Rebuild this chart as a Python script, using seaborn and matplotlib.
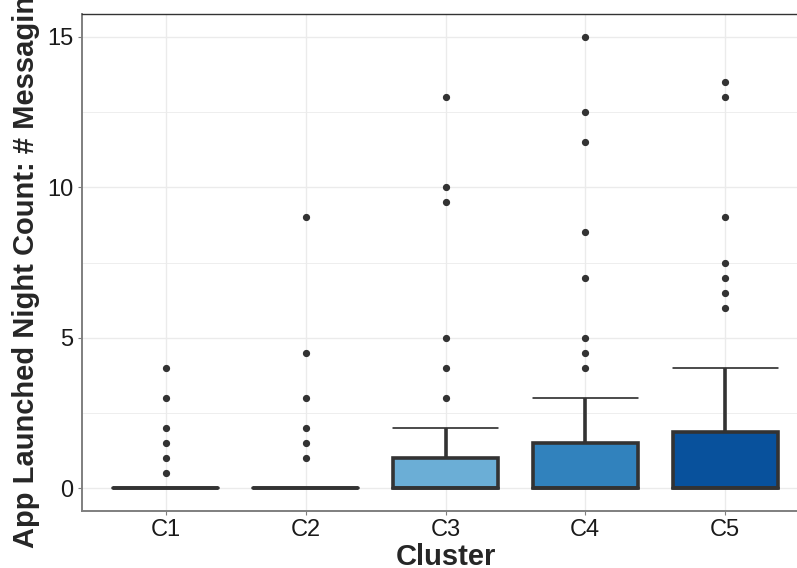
import numpy as np
import pandas as pd
import matplotlib
matplotlib.use("Agg")
import matplotlib.pyplot as plt
from matplotlib.ticker import MultipleLocator
import seaborn as sns

# Night-time launch counts of messaging apps, one (value, count) table per cluster
clusters = ["C1", "C2", "C3", "C4", "C5"]

c1_values = [0, 0.5, 1, 1.5, 2, 3, 4]
c1_counts = [90, 1, 1, 1, 1, 1, 1]

c2_values = [0, 1, 1.5, 2, 3, 4.5, 9]
c2_counts = [90, 1, 1, 1, 1, 1, 1]

c3_values = [0, 1, 2, 3, 4, 5, 9.5, 10, 13]
c3_counts = [60, 24, 10, 1, 1, 1, 1, 1, 1]

c4_values = [0, 1, 1.5, 2, 3, 4, 4.5, 5, 7, 8.5, 11.5, 12.5, 15]
c4_counts = [55, 10, 15, 6, 6, 1, 1, 1, 1, 1, 1, 1, 1]

c5_values = [0, 1, 1.5, 3, 4, 6, 6.5, 7, 7.5, 9, 13, 13.5]
c5_counts = [55, 10, 10, 10, 8, 1, 1, 1, 1, 1, 1, 1]

cluster_colors = ["#eff3ff", "#bdd7e7", "#6baed6", "#3182bd", "#08519c"]

tables = [
    (c1_values, c1_counts),
    (c2_values, c2_counts),
    (c3_values, c3_counts),
    (c4_values, c4_counts),
    (c5_values, c5_counts),
]
frames = []
for name, (vals, cnts) in zip(clusters, tables):
    frames.append(pd.DataFrame({"Cluster": name,
                                "count": np.repeat(vals, cnts)}))
df = pd.concat(frames, ignore_index=True)

sns.set_theme(style="white")
plt.rcParams["font.family"] = ["Liberation Sans", "DejaVu Sans"]

fig = plt.figure(figsize=(7.97, 5.68), dpi=100)
ax = fig.add_axes([82 / 797, 57 / 568, 727 / 797, 497 / 568])

box_width = 0.75
line_col = "#333333"

sns.boxplot(
    data=df, x="Cluster", y="count", hue="Cluster", order=clusters,
    hue_order=clusters, palette=cluster_colors, legend=False,
    saturation=1, width=box_width, linecolor=line_col, linewidth=2.6,
    whis=1.5, ax=ax,
    flierprops=dict(marker="o", markerfacecolor=line_col,
                    markeredgecolor=line_col, markersize=4.2),
    medianprops=dict(solid_capstyle="round"),
)

# ggplot-style whisker caps: thin, spanning the full box width
for line in ax.lines:
    xd = np.asarray(line.get_xdata(), dtype=float)
    yd = np.asarray(line.get_ydata(), dtype=float)
    if len(xd) == 2 and yd[0] == yd[1] and (xd[1] - xd[0]) < box_width * 0.9:
        mid = xd.mean()
        line.set_xdata([mid - box_width / 2, mid + box_width / 2])
        line.set_linewidth(1.1)
        line.set_color("#1a1a1a")
        line.set_zorder(1.5)

ax.set_xlim(-0.6, 4.6)
ax.set_ylim(-0.75, 15.75)
ax.yaxis.set_major_locator(MultipleLocator(5))
ax.yaxis.set_minor_locator(MultipleLocator(2.5))

ax.set_axisbelow(True)
ax.grid(which="major", color="#ebebeb", linewidth=1.0)
ax.grid(which="minor", axis="y", color="#ebebeb", linewidth=0.6)

for side in ["left", "bottom"]:
    ax.spines[side].set_color("#7f7f7f")
    ax.spines[side].set_linewidth(1.4)
ax.spines["top"].set_color("#333333")
ax.spines["top"].set_linewidth(1.0)
ax.spines["right"].set_color("#333333")
ax.spines["right"].set_linewidth(1.0)

ax.tick_params(axis="both", which="major", length=3, width=0.8,
               color="#7f7f7f", labelsize=17, labelcolor="#1a1a1a", pad=3,
               left=True, bottom=True)
ax.tick_params(axis="y", which="minor", length=0)

ax.set_xlabel("Cluster", fontsize=21, fontweight="bold", labelpad=1)
ax.set_ylabel("App Launched Night Count: # Messaging", fontsize=21,
              fontweight="bold", labelpad=5)

fig.savefig("out.png", dpi=100)
